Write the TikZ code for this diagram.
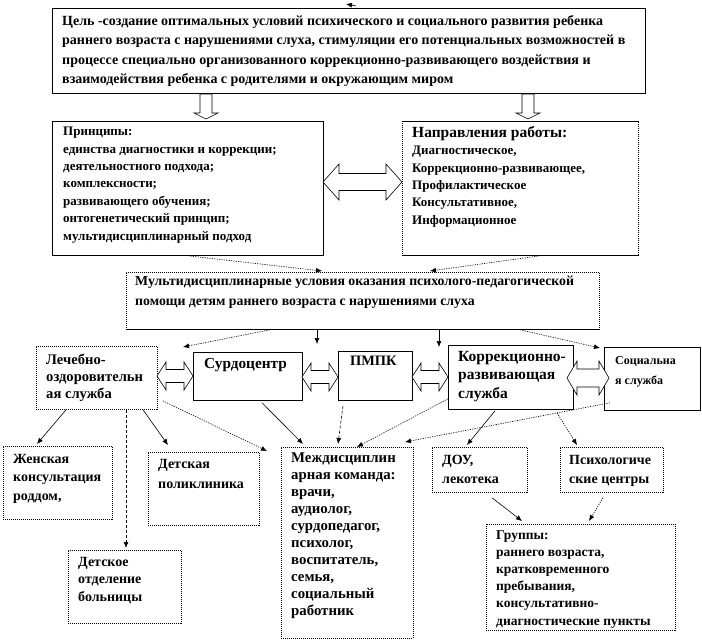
\documentclass[tikz,border=0pt]{standalone}
\usepackage{fontspec}
\setmainfont{Liberation Serif}
\usetikzlibrary{arrows.meta,calc}
\tikzset{
  bx/.style={draw, line width=0.8pt, anchor=north west, inner sep=0pt, fill=white},
  dbx/.style={bx, dash pattern=on 1pt off 1pt},
  edge/.style={line width=0.8pt},
  tx/.style={anchor=north west, inner sep=0pt, align=left, font=\fontsize{13}{17.4}\selectfont\bfseries},
  con/.style={line width=0.6pt, -{Latex[length=6pt,width=5pt]}},
  dcon/.style={con, dash pattern=on 1.2pt off 1.2pt},
  dashcon/.style={con, dash pattern=on 3pt off 2pt},
  blk/.style={draw, line width=0.6pt, fill=white},
}
\newcommand\mkbox[6]{\node[#1, minimum width=#4pt-#2pt, minimum height=#5pt-#3pt] (#6) at (#2,#3) {};}
% double block arrow: xL xR y headlen headhalf shafthalf
\newcommand\dblarr[6]{\draw[blk] (#1,#3) -- ({#1+#4},{#3-#5}) -- ({#1+#4},{#3-#6}) -- ({#2-#4},{#3-#6}) -- ({#2-#4},{#3-#5}) -- (#2,#3) -- ({#2-#4},{#3+#5}) -- ({#2-#4},{#3+#6}) -- ({#1+#4},{#3+#6}) -- ({#1+#4},{#3+#5}) -- cycle;}
% down block arrow: x ytop ybot
\newcommand\downarr[3]{\draw[blk] ({#1-6},#2) -- ({#1+6},#2) -- ({#1+6},{#3-6}) -- ({#1+12},{#3-6}) -- (#1,#3) -- ({#1-12},{#3-6}) -- ({#1-6},{#3-6}) -- cycle;}
\begin{document}
\begin{tikzpicture}[x=1pt,y=-1pt]
\useasboundingbox[fill=white] (0,0) rectangle (702,643);

% boxes
\mkbox{bx}{52}{8}{645}{93}{top}
\mkbox{bx}{52}{121}{323}{255}{prin}
\mkbox{dbx}{402}{121}{638}{255}{dir}
\draw[edge] (dir.north west) -- (dir.north east) (dir.south west) -- (dir.south east);
\mkbox{dbx}{126}{272}{599}{329}{mid}
\draw[edge] (mid.south west) -- (mid.south east);
\mkbox{dbx}{36}{346}{157}{409}{leh}
\mkbox{bx}{193}{352}{302}{400}{surd}
\mkbox{bx}{338}{351}{412}{400}{pmpk}
\mkbox{bx}{448}{345}{573}{409}{korr}
\mkbox{bx}{604}{347}{700}{410}{soc}
\mkbox{dbx}{3}{446}{112}{519}{zhen}
\mkbox{dbx}{148}{452}{259}{525}{detp}
\mkbox{dbx}{68}{550}{181}{623}{dets}
\mkbox{dbx}{281}{447}{413}{638}{mezh}
\mkbox{dbx}{432}{447}{527}{492}{dou}
\mkbox{dbx}{560}{447}{663}{492}{psy}
\mkbox{dbx}{486}{524}{675}{630}{grp}

% texts
\node[tx, font=\fontsize{14}{19.5}\selectfont\bfseries] (top-t) at (62,15) {Цель -создание оптимальных условий  психического  и социального  развития ребенка\\раннего возраста с нарушениями  слуха,  стимуляции его потенциальных  возможностей в\\процессе  специально  организованного  коррекционно-развивающего  воздействия и\\взаимодействия ребенка с родителями и окружающим  миром};
\node[tx] (prin-t) at (63,127) {Принципы:\\единства диагностики и коррекции;\\деятельностного подхода;\\комплексности;\\развивающего обучения;\\онтогенетический принцип;\\мультидисциплинарный  подход};
\node[tx] (dir-t) at (412,126) {{\fontsize{15.5}{17.4}\selectfont Направления работы:}\\Диагностическое,\\Коррекционно-развивающее,\\Профилактическое\\Консультативное,\\Информационное};
\node[tx, font=\fontsize{13.8}{20}\selectfont\bfseries] (mid-t) at (135,276) {Мультидисциплинарные  условия  оказания  психолого-педагогической\\помощи  детям раннего возраста с нарушениями  слуха};
\node[tx, font=\fontsize{14.6}{17}\selectfont\bfseries] (leh-t) at (46,354) {Лечебно-\\оздоровительн\\ая служба};
\node[tx, font=\fontsize{15.3}{17}\selectfont\bfseries] (surd-t) at (204,358) {Сурдоцентр};
\node[tx, font=\fontsize{14.4}{17}\selectfont\bfseries] (pmpk-t) at (350,356) {ПМПК};
\node[tx, font=\fontsize{15.5}{18.5}\selectfont\bfseries] (korr-t) at (458,351) {Коррекционно-\\развивающая\\служба};
\node[tx, font=\fontsize{12}{20}\selectfont\bfseries] (soc-t) at (615,356) {Социальна\\я служба};
\node[tx, font=\fontsize{14}{18.5}\selectfont\bfseries] (zhen-t) at (13,454) {Женская\\консультация\\роддом,};
\node[tx, font=\fontsize{14}{20}\selectfont\bfseries] (detp-t) at (158,459) {Детская\\поликлиника};
\node[tx, font=\fontsize{14}{17.5}\selectfont\bfseries] (dets-t) at (78,557) {Детское\\отделение\\больницы};
\node[tx, font=\fontsize{14.8}{17}\selectfont\bfseries] (mezh-t) at (291,453) {Междисциплин\\арная команда:\\врачи,\\аудиолог,\\сурдопедагог,\\психолог,\\воспитатель,\\семья,\\социальный\\работник};
\node[tx, font=\fontsize{14}{19}\selectfont\bfseries] (dou-t) at (442,455) {ДОУ,\\лекотека};
\node[tx, font=\fontsize{14}{19}\selectfont\bfseries] (psy-t) at (569,455) {Психологиче\\ские центры};
\node[tx, font=\fontsize{13.5}{17.2}\selectfont\bfseries] (grp-t) at (496,530) {Группы:\\раннего возраста,\\кратковременного\\пребывания,\\консультативно-\\диагностические пункты};

% block arrows
\downarr{206}{94}{119}
\downarr{528}{94}{119}
\dblarr{323}{402}{182}{16}{18}{8.5}
\dblarr{157}{193}{376}{9}{14}{6.5}
\dblarr{302}{338}{377}{9}{14}{6.5}
\dblarr{412}{448}{377}{9}{14}{6.5}
\dblarr{567}{609}{378}{10}{17}{9}

% free ends
\coordinate (c-top) at (346,4);
\coordinate (c-m1) at (322,271);
\coordinate (c-m2) at (430,271);
\coordinate (c-l) at (183,347);
\coordinate (c-s) at (317,344);
\coordinate (c-p) at (439,347);
\coordinate (c-soc) at (600,348);
\coordinate (c-zh) at (37,444);
\coordinate (c-ds) at (126,548);
\coordinate (c-dp) at (168,445);
\coordinate (c-mz1) at (267,451);
\coordinate (c-mz2) at (303,444);
\coordinate (c-mz3) at (338,444);
\coordinate (c-mz4) at (357,447);
\coordinate (c-mz5) at (405,442);
\coordinate (c-dou) at (467,445);
\coordinate (c-psy) at (577,445);
\coordinate (c-g1) at (522,521);
\coordinate (c-g2) at (589,521);

% connectors
\draw[con] ($(top.north west)+(304,-2)$) -- (c-top);
\draw[dcon] ($(prin.south west)+(136,0)$) -- (c-m1);
\draw[dcon] ($(dir.south west)+(138,0)$) -- (c-m2);
\draw[dcon] ($(mid.south west)+(144,0)$) -- (c-l);
\draw[con] ($(mid.south west)+(191,0)$) -- (c-s);
\draw[con] ($(mid.south west)+(313,0)$) -- (c-p);
\draw[dcon] ($(mid.south west)+(394,0)$) -- (c-soc);
\draw[con] ($(leh.south west)+(30,0)$) -- (c-zh);
\draw[dashcon] ($(leh.south west)+(90,0)$) -- (c-ds);
\draw[con] ($(leh.south west)+(107,0)$) -- (c-dp);
\draw[dcon] ($(leh.south east)+(5,-9)$) -- (c-mz1);
\draw[con] ($(surd.south west)+(69,2)$) -- (c-mz2);
\draw[dashcon] ($(pmpk.south west)+(5,5)$) -- (c-mz3);
\draw[dcon] ($(korr.south west)+(0,-11)$) -- (c-mz4);
\draw[dcon] ($(soc.south west)+(6,-8)$) -- (c-mz5);
\draw[con] ($(korr.south west)+(47,1)$) -- (c-dou);
\draw[dcon] ($(korr.south west)+(109,3)$) -- (c-psy);
\draw[con] ($(dou.south west)+(60,5)$) -- (c-g1);
\draw[dcon] ($(psy.south west)+(43,5)$) -- (c-g2);
\end{tikzpicture}
\end{document}
